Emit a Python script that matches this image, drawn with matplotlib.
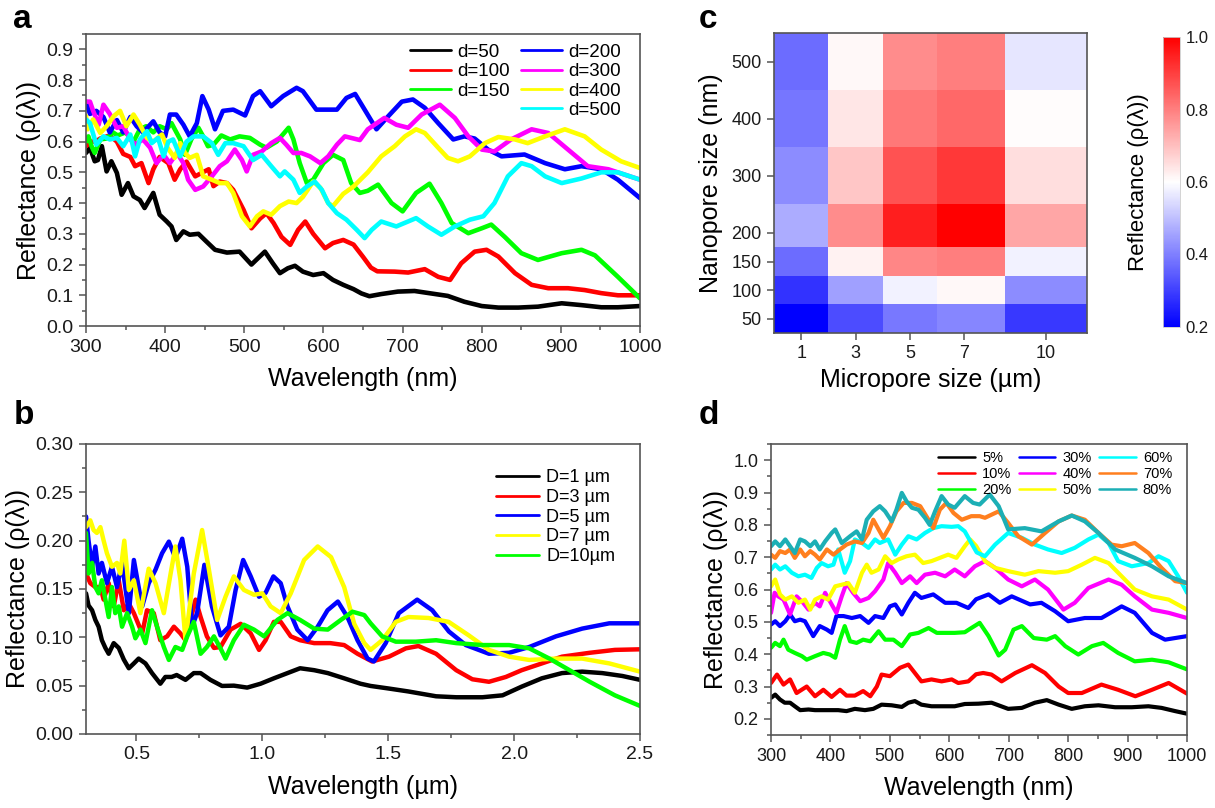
import matplotlib
matplotlib.use("Agg")
import matplotlib.pyplot as plt
from matplotlib.ticker import MultipleLocator, FormatStrFormatter
from matplotlib.lines import Line2D
import numpy as np

plt.rcParams["font.family"] = ["Liberation Sans", "DejaVu Sans"]

# ---------------- (a) nanopore size d (nm): wavelength (nm), reflectance ----------------
a_d50 = [(300,0.563),(305,0.58),(311,0.536),(315,0.54),(320,0.585),(326,0.503),(332,0.536),(339,0.498),
         (345,0.427),(353,0.465),(360,0.422),(368,0.41),(374,0.384),(385,0.433),(393,0.362),(402,0.34),
         (408,0.324),(414,0.28),(423,0.308),(431,0.297),(442,0.30),(452,0.275),(463,0.248),(478,0.239),
         (494,0.242),(509,0.20),(515,0.215),(526,0.242),(536,0.204),(545,0.172),(555,0.188),(564,0.196),
         (574,0.177),(587,0.166),(600,0.172),(612,0.15),(625,0.134),(638,0.12),(648,0.106),(658,0.097),
         (673,0.104),(694,0.112),(715,0.114),(736,0.106),(757,0.098),(778,0.079),(800,0.065),(821,0.06),
         (846,0.06),(871,0.063),(901,0.074),(926,0.068),(951,0.061),(972,0.061),(1000,0.065)]
a_d100 = [(300,0.585),(306,0.60),(312,0.60),(318,0.61),(330,0.62),(339,0.60),(347,0.56),(356,0.55),
          (362,0.52),(370,0.53),(379,0.465),(385,0.51),(393,0.55),(404,0.53),(412,0.476),(419,0.51),
          (427,0.535),(438,0.487),(446,0.498),(455,0.51),(461,0.455),(469,0.47),(478,0.465),(486,0.443),
          (499,0.378),(509,0.318),(520,0.35),(528,0.367),(537,0.335),(547,0.29),(558,0.264),(568,0.313),
          (577,0.34),(587,0.30),(602,0.253),(612,0.27),(625,0.28),(638,0.265),(650,0.225),(660,0.19),
          (668,0.178),(690,0.177),(707,0.174),(728,0.185),(745,0.16),(760,0.15),(774,0.204),(791,0.242),
          (806,0.248),(821,0.226),(842,0.172),(863,0.134),(884,0.123),(909,0.123),(930,0.117),(951,0.107),
          (972,0.10),(1000,0.10)]
a_d150 = [(300,0.60),(303,0.617),(307,0.585),(311,0.563),(318,0.607),(326,0.61),(334,0.63),(340,0.62),
          (350,0.63),(360,0.60),(368,0.64),(376,0.65),(385,0.63),(393,0.65),(402,0.64),(408,0.66),
          (419,0.607),(425,0.557),(433,0.607),(442,0.645),(448,0.617),(454,0.585),(461,0.59),(471,0.62),
          (482,0.607),(494,0.617),(507,0.612),(520,0.59),(528,0.58),(541,0.60),(556,0.645),(562,0.607),
          (570,0.53),(579,0.465),(587,0.476),(600,0.53),(612,0.557),(625,0.54),(635,0.465),(646,0.433),
          (656,0.44),(669,0.46),(686,0.40),(700,0.373),(717,0.433),(734,0.463),(749,0.40),(762,0.335),
          (783,0.302),(800,0.318),(812,0.33),(829,0.29),(850,0.237),(871,0.215),(901,0.237),(926,0.248),
          (943,0.23),(972,0.16),(1000,0.09)]
a_d200 = [(300,0.73),(305,0.69),(313,0.70),(322,0.68),(330,0.63),(339,0.67),(347,0.63),(356,0.68),
          (364,0.65),(372,0.63),(385,0.666),(393,0.63),(400,0.617),(406,0.688),(414,0.688),(423,0.655),
          (431,0.617),(440,0.66),(447,0.748),(455,0.704),(463,0.64),(473,0.70),(486,0.704),(501,0.685),
          (511,0.748),(520,0.764),(534,0.715),(549,0.748),(566,0.775),(574,0.764),(591,0.704),(604,0.704),
          (617,0.704),(629,0.742),(640,0.755),(652,0.704),(667,0.64),(682,0.683),(699,0.73),(713,0.737),
          (728,0.71),(745,0.66),(764,0.607),(778,0.617),(791,0.61),(808,0.574),(825,0.552),(854,0.558),
          (880,0.53),(905,0.51),(926,0.52),(951,0.51),(972,0.476),(1000,0.416)]
a_d300 = [(300,0.73),(305,0.73),(309,0.70),(316,0.655),(322,0.72),(330,0.69),(339,0.645),(347,0.65),
          (356,0.607),(362,0.59),(372,0.607),(381,0.58),(389,0.53),(398,0.557),(406,0.53),(415,0.563),
          (423,0.53),(429,0.476),(438,0.443),(448,0.454),(459,0.487),(469,0.52),(478,0.536),(488,0.574),
          (497,0.54),(503,0.503),(511,0.557),(522,0.568),(534,0.595),(545,0.612),(553,0.59),(562,0.563),
          (572,0.563),(583,0.552),(596,0.53),(606,0.552),(617,0.59),(627,0.617),(635,0.612),(646,0.605),
          (656,0.64),(677,0.677),(692,0.655),(707,0.645),(724,0.688),(747,0.72),(766,0.677),(783,0.617),
          (800,0.574),(816,0.568),(837,0.607),(863,0.64),(884,0.628),(909,0.574),(934,0.52),(960,0.51),
          (1000,0.476)]
a_d400 = [(300,0.683),(302,0.64),(309,0.672),(318,0.628),(326,0.65),(335,0.683),(343,0.70),(351,0.65),
          (360,0.688),(368,0.655),(377,0.612),(385,0.60),(396,0.623),(403,0.58),(412,0.547),(419,0.595),
          (425,0.563),(431,0.547),(440,0.557),(448,0.487),(459,0.476),(469,0.465),(478,0.465),(486,0.433),
          (497,0.357),(507,0.324),(516,0.357),(524,0.373),(534,0.362),(545,0.39),(556,0.405),(566,0.40),
          (574,0.42),(587,0.47),(596,0.45),(606,0.40),(612,0.39),(625,0.43),(638,0.454),(656,0.50),
          (673,0.552),(690,0.585),(703,0.617),(717,0.64),(728,0.628),(745,0.58),(757,0.547),(770,0.536),
          (785,0.552),(804,0.595),(821,0.615),(842,0.607),(858,0.595),(880,0.617),(905,0.64),(930,0.617),
          (951,0.574),(976,0.536),(1000,0.514)]
a_d500 = [(300,0.672),(305,0.66),(313,0.59),(322,0.617),(330,0.607),(339,0.612),(347,0.585),(356,0.623),
          (362,0.552),(368,0.607),(377,0.634),(383,0.595),(391,0.612),(398,0.552),(404,0.60),(410,0.607),
          (419,0.552),(427,0.60),(436,0.617),(448,0.617),(459,0.595),(467,0.557),(476,0.595),(486,0.595),
          (499,0.585),(511,0.54),(522,0.557),(534,0.52),(545,0.487),(551,0.503),(562,0.476),(570,0.433),
          (579,0.454),(589,0.47),(598,0.443),(606,0.40),(617,0.367),(629,0.346),(642,0.313),(652,0.286),
          (661,0.313),(673,0.34),(692,0.324),(717,0.351),(732,0.324),(749,0.297),(766,0.324),(785,0.346),
          (802,0.357),(816,0.40),(833,0.487),(850,0.53),(863,0.52),(880,0.487),(901,0.465),(926,0.48),
          (951,0.50),(972,0.50),(1000,0.476)]
a_labels = ["d=50", "d=100", "d=150", "d=200", "d=300", "d=400", "d=500"]
a_series = [a_d50, a_d100, a_d150, a_d200, a_d300, a_d400, a_d500]
a_colors = ["#000000", "#FF0000", "#00FF00", "#0000FF", "#FF00FF", "#FFFF00", "#00FFFF"]

# ---------------- (b) micropore size D: wavelength (um), reflectance ----------------
b_D1 = [(0.30,0.1455),(0.31,0.133),(0.324,0.128),(0.337,0.118),(0.35,0.111),(0.363,0.097),(0.377,0.089),
        (0.39,0.083),(0.41,0.094),(0.43,0.089),(0.45,0.077),(0.47,0.068),(0.49,0.073),(0.509,0.078),
        (0.536,0.073),(0.562,0.063),(0.595,0.052),(0.615,0.059),(0.64,0.059),(0.66,0.061),(0.695,0.056),
        (0.728,0.063),(0.755,0.063),(0.794,0.056),(0.84,0.0497),(0.887,0.05),(0.94,0.048),(0.993,0.052),
        (1.046,0.0576),(1.10,0.063),(1.15,0.068),(1.206,0.066),(1.26,0.063),(1.325,0.0576),(1.39,0.052),
        (1.43,0.0497),(1.503,0.047),(1.58,0.044),(1.69,0.039),(1.77,0.038),(1.874,0.038),(1.954,0.040),
        (2.03,0.049),(2.11,0.0576),(2.19,0.063),(2.27,0.0645),(2.35,0.063),(2.43,0.060),(2.5,0.056)]
b_D3 = [(0.30,0.166),(0.317,0.156),(0.337,0.152),(0.357,0.152),(0.37,0.139),(0.39,0.156),(0.41,0.132),
        (0.43,0.159),(0.45,0.128),(0.47,0.135),(0.49,0.125),(0.523,0.104),(0.542,0.128),(0.569,0.125),
        (0.595,0.097),(0.622,0.101),(0.649,0.111),(0.675,0.104),(0.695,0.097),(0.715,0.118),(0.735,0.139),
        (0.755,0.121),(0.78,0.101),(0.808,0.089),(0.834,0.090),(0.874,0.108),(0.914,0.114),(0.954,0.104),
        (0.987,0.087),(1.013,0.097),(1.046,0.116),(1.073,0.116),(1.113,0.101),(1.15,0.097),(1.206,0.094),
        (1.27,0.094),(1.325,0.092),(1.378,0.083),(1.436,0.075),(1.503,0.080),(1.57,0.0886),(1.62,0.091),
        (1.69,0.083),(1.77,0.066),(1.834,0.0566),(1.9,0.054),(1.967,0.059),(2.03,0.066),(2.11,0.073),
        (2.19,0.080),(2.3,0.084),(2.4,0.087),(2.5,0.0876)]
b_D5 = [(0.30,0.225),(0.31,0.20),(0.324,0.173),(0.337,0.194),(0.35,0.166),(0.363,0.177),(0.383,0.156),
        (0.403,0.173),(0.423,0.152),(0.443,0.177),(0.47,0.125),(0.49,0.18),(0.509,0.152),(0.523,0.132),
        (0.549,0.156),(0.576,0.17),(0.602,0.187),(0.629,0.199),(0.655,0.182),(0.682,0.202),(0.702,0.173),
        (0.721,0.111),(0.741,0.125),(0.77,0.175),(0.80,0.132),(0.834,0.102),(0.867,0.111),(0.894,0.149),
        (0.924,0.18),(0.954,0.163),(0.987,0.142),(1.013,0.146),(1.044,0.163),(1.073,0.156),(1.10,0.132),
        (1.139,0.108),(1.18,0.097),(1.22,0.111),(1.259,0.128),(1.30,0.137),(1.338,0.121),(1.378,0.097),
        (1.418,0.078),(1.443,0.075),(1.49,0.094),(1.542,0.125),(1.615,0.139),(1.675,0.128),(1.741,0.106),
        (1.808,0.092),(1.9,0.083),(1.98,0.084),(2.06,0.090),(2.166,0.101),(2.27,0.109),(2.378,0.1145),
        (2.5,0.1145)]
b_D7 = [(0.30,0.214),(0.317,0.221),(0.33,0.211),(0.343,0.208),(0.357,0.214),(0.37,0.20),(0.383,0.187),
        (0.403,0.173),(0.423,0.177),(0.436,0.166),(0.452,0.20),(0.47,0.149),(0.49,0.159),(0.516,0.125),
        (0.549,0.171),(0.576,0.156),(0.609,0.125),(0.636,0.166),(0.655,0.194),(0.675,0.159),(0.695,0.097),
        (0.728,0.166),(0.761,0.211),(0.788,0.17),(0.821,0.118),(0.854,0.142),(0.887,0.163),(0.927,0.149),
        (0.967,0.144),(1.0,0.1455),(1.033,0.132),(1.073,0.125),(1.113,0.1455),(1.166,0.18),(1.22,0.194),
        (1.273,0.183),(1.325,0.152),(1.365,0.114),(1.405,0.094),(1.43,0.087),(1.476,0.097),(1.53,0.116),
        (1.58,0.121),(1.66,0.12),(1.74,0.116),(1.82,0.102),(1.9,0.087),(1.98,0.080),(2.06,0.0766),
        (2.166,0.078),(2.27,0.078),(2.378,0.073),(2.5,0.0645)]
b_D10 = [(0.30,0.208),(0.31,0.166),(0.324,0.177),(0.337,0.152),(0.35,0.1455),(0.363,0.159),(0.377,0.139),
         (0.39,0.121),(0.403,0.152),(0.416,0.125),(0.43,0.132),(0.443,0.111),(0.463,0.125),(0.483,0.111),
         (0.496,0.099),(0.516,0.108),(0.536,0.094),(0.562,0.128),(0.582,0.111),(0.609,0.090),(0.629,0.0766),
         (0.655,0.090),(0.682,0.087),(0.702,0.101),(0.728,0.116),(0.755,0.083),(0.78,0.090),(0.808,0.101),
         (0.834,0.0886),(0.854,0.078),(0.887,0.097),(0.927,0.113),(0.967,0.108),(1.007,0.101),(1.06,0.118),
         (1.10,0.125),(1.15,0.118),(1.206,0.109),(1.26,0.108),(1.312,0.118),(1.358,0.1265),(1.405,0.123),
         (1.43,0.1145),(1.476,0.101),(1.53,0.0955),(1.61,0.0955),(1.69,0.097),(1.77,0.094),(1.874,0.092),
         (1.98,0.092),(2.06,0.0886),(2.14,0.078),(2.22,0.066),(2.3,0.054),(2.4,0.040),(2.5,0.029)]
b_labels = ["D=1 µm", "D=3 µm", "D=5 µm", "D=7 µm", "D=10µm"]
b_series = [b_D1, b_D3, b_D5, b_D7, b_D10]
b_colors = ["#000000", "#FF0000", "#0000FF", "#FFFF00", "#00FF00"]

# ---------------- (c) reflectance map ----------------
c_micropore = [1, 3, 5, 7, 10]                       # µm
c_micro_edges = [0, 2, 4, 6, 8.5, 11.5]
c_nanopore = [50, 100, 150, 200, 300, 400, 500]      # nm
c_nano_edges = [25, 75, 125, 175, 250, 350, 450, 550]
c_reflectance = [
    [0.20, 0.32, 0.39, 0.41, 0.29],    # 50 nm
    [0.28, 0.45, 0.58, 0.61, 0.42],    # 100 nm
    [0.37, 0.62, 0.79, 0.80, 0.58],    # 150 nm
    [0.47, 0.78, 0.95, 1.00, 0.74],    # 200 nm
    [0.42, 0.69, 0.87, 0.91, 0.65],    # 300 nm
    [0.385, 0.64, 0.81, 0.835, 0.605], # 400 nm
    [0.37, 0.61, 0.78, 0.80, 0.56],    # 500 nm
]

# ---------------- (d) porosity: wavelength (nm), reflectance ----------------
d_p5 = [(300,0.265),(307,0.275),(315,0.26),(323,0.25),(332,0.25),(340,0.239),(349,0.227),(363,0.229),
        (374,0.227),(385,0.227),(399,0.227),(413,0.227),(427,0.224),(441,0.231),(458,0.227),(472,0.231),
        (486,0.244),(503,0.242),(520,0.237),(531,0.25),(542,0.255),(553,0.244),(570,0.239),(593,0.239),
        (609,0.239),(626,0.246),(649,0.247),(671,0.25),(699,0.231),(722,0.234),(744,0.25),(764,0.258),
        (784,0.244),(806,0.231),(828,0.239),(851,0.242),(879,0.236),(907,0.236),(935,0.239),(957,0.234),
        (980,0.224),(1000,0.216)]
d_p10 = [(300,0.311),(310,0.337),(321,0.306),(332,0.322),(343,0.28),(360,0.30),(374,0.27),(388,0.29),
         (402,0.268),(416,0.29),(427,0.272),(441,0.272),(455,0.286),(467,0.27),(478,0.30),(486,0.337),
         (500,0.332),(517,0.358),(531,0.368),(542,0.342),(553,0.316),(570,0.322),(587,0.316),(604,0.322),
         (615,0.311),(632,0.316),(645,0.338),(657,0.342),(671,0.337),(688,0.316),(711,0.342),(739,0.366),
         (761,0.342),(784,0.30),(800,0.28),(823,0.28),(856,0.306),(884,0.29),(913,0.27),(941,0.29),
         (969,0.311),(1000,0.278)]
d_p20 = [(300,0.42),(307,0.435),(315,0.425),(321,0.445),(329,0.414),(340,0.404),(352,0.394),(360,0.383),
         (374,0.394),(388,0.404),(399,0.399),(408,0.389),(416,0.445),(424,0.487),(433,0.44),(444,0.435),
         (455,0.445),(467,0.44),(481,0.471),(492,0.445),(506,0.445),(520,0.425),(534,0.461),(548,0.466),
         (565,0.481),(579,0.466),(593,0.466),(609,0.466),(626,0.468),(637,0.481),(651,0.497),(666,0.456),
         (683,0.396),(694,0.414),(708,0.476),(722,0.487),(742,0.45),(764,0.445),(778,0.456),(795,0.425),
         (817,0.399),(840,0.425),(859,0.435),(884,0.404),(912,0.378),(941,0.383),(969,0.375),(1000,0.353)]
d_p30 = [(300,0.492),(307,0.502),(315,0.487),(324,0.502),(332,0.523),(340,0.502),(349,0.507),(357,0.502),
         (371,0.456),(382,0.487),(394,0.476),(402,0.466),(410,0.518),(422,0.518),(436,0.512),(450,0.518),
         (464,0.497),(475,0.518),(489,0.512),(500,0.548),(509,0.554),(520,0.523),(531,0.559),(542,0.59),
         (553,0.574),(573,0.585),(593,0.559),(612,0.559),(632,0.543),(645,0.57),(666,0.585),(685,0.559),
         (705,0.579),(736,0.554),(755,0.559),(778,0.533),(800,0.502),(828,0.512),(856,0.512),(890,0.548),
         (912,0.528),(941,0.466),(963,0.445),(1000,0.456)]
d_p40 = [(300,0.528),(306,0.59),(312,0.579),(321,0.569),(332,0.523),(343,0.579),(354,0.559),(363,0.538),
         (374,0.559),(382,0.548),(391,0.59),(402,0.554),(410,0.528),(419,0.579),(427,0.62),(438,0.59),
         (450,0.564),(464,0.574),(475,0.595),(489,0.631),(497,0.682),(509,0.652),(520,0.62),(534,0.641),
         (545,0.62),(559,0.646),(576,0.652),(593,0.641),(609,0.662),(626,0.641),(643,0.672),(660,0.688),
         (677,0.667),(699,0.631),(722,0.61),(744,0.631),(766,0.60),(792,0.538),(811,0.559),(834,0.605),
         (868,0.631),(890,0.615),(912,0.579),(941,0.538),(969,0.528),(1000,0.512)]
d_p50 = [(300,0.61),(307,0.631),(315,0.585),(324,0.569),(335,0.579),(346,0.559),(357,0.569),(366,0.538),
         (374,0.569),(385,0.579),(396,0.569),(408,0.61),(419,0.615),(430,0.62),(441,0.59),(453,0.652),
         (461,0.677),(469,0.652),(481,0.662),(492,0.703),(503,0.682),(514,0.693),(528,0.703),(542,0.708),
         (556,0.682),(570,0.688),(584,0.698),(598,0.708),(612,0.698),(626,0.734),(635,0.755),(645,0.735),
         (660,0.688),(677,0.667),(699,0.657),(727,0.646),(750,0.657),(778,0.652),(800,0.657),(823,0.677),
         (845,0.698),(868,0.682),(890,0.641),(912,0.60),(941,0.579),(969,0.569),(1000,0.538)]
d_p60 = [(300,0.662),(307,0.677),(315,0.662),(324,0.672),(335,0.652),(346,0.641),(357,0.646),(368,0.636),
         (377,0.667),(385,0.682),(396,0.672),(405,0.677),(413,0.724),(424,0.652),(433,0.688),(441,0.755),
         (453,0.744),(464,0.729),(475,0.755),(483,0.744),(497,0.755),(509,0.708),(520,0.739),(531,0.765),
         (545,0.755),(559,0.775),(573,0.79),(587,0.796),(604,0.794),(615,0.796),(626,0.78),(637,0.744),
         (646,0.715),(660,0.703),(677,0.739),(699,0.775),(722,0.76),(744,0.739),(766,0.724),(789,0.713),
         (811,0.729),(834,0.755),(851,0.77),(868,0.744),(884,0.688),(907,0.672),(935,0.682),(952,0.703),
         (969,0.688),(985,0.641),(1000,0.59)]
d_p70 = [(300,0.708),(307,0.698),(315,0.719),(324,0.713),(332,0.724),(340,0.698),(349,0.724),(357,0.703),
         (366,0.719),(374,0.708),(382,0.693),(394,0.724),(405,0.708),(416,0.724),(427,0.739),(441,0.749),
         (453,0.744),(464,0.775),(472,0.816),(481,0.786),(489,0.76),(500,0.796),(511,0.842),(523,0.868),
         (537,0.868),(551,0.858),(565,0.816),(573,0.79),(584,0.847),(595,0.868),(607,0.837),(621,0.816),
         (637,0.827),(651,0.827),(660,0.822),(683,0.842),(699,0.806),(716,0.765),(739,0.739),(761,0.775),
         (784,0.811),(806,0.829),(828,0.816),(851,0.775),(873,0.739),(890,0.734),(912,0.744),(935,0.713),
         (957,0.667),(980,0.626),(1000,0.62)]
d_p80 = [(300,0.734),(307,0.749),(315,0.734),(324,0.755),(332,0.734),(340,0.713),(349,0.755),(357,0.749),
         (366,0.734),(374,0.749),(382,0.724),(391,0.749),(402,0.775),(408,0.786),(419,0.744),(433,0.765),
         (444,0.78),(453,0.755),(461,0.816),(472,0.842),(483,0.858),(492,0.842),(503,0.811),(511,0.847),
         (520,0.899),(528,0.873),(537,0.853),(548,0.847),(559,0.822),(567,0.80),(576,0.842),(587,0.889),
         (598,0.863),(609,0.853),(626,0.889),(640,0.868),(651,0.863),(668,0.894),(683,0.858),(699,0.786),
         (727,0.79),(755,0.78),(784,0.811),(806,0.829),(828,0.811),(851,0.775),(879,0.724),(912,0.698),
         (941,0.672),(969,0.641),(1000,0.62)]
d_labels = ["5%", "10%", "20%", "30%", "40%", "50%", "60%", "70%", "80%"]
d_series = [d_p5, d_p10, d_p20, d_p30, d_p40, d_p50, d_p60, d_p70, d_p80]
d_colors = ["#000000", "#FF0000", "#00FF00", "#0000FF", "#FF00FF", "#FFFF00", "#00FFFF", "#FF7F1E", "#1CAFB5"]

FRAME = "#555555"
TICK_FS = 14
LABEL_FS = 18
YLABEL = "Reflectance (ρ(λ))"

fig = plt.figure(figsize=(12.15, 8.08), dpi=100)


def frame(ax):
    for s in ax.spines.values():
        s.set_color(FRAME)
        s.set_linewidth(1.2)
    ax.tick_params(which="both", direction="out", top=False, right=False,
                   color=FRAME, width=1.1, labelsize=TICK_FS, labelcolor="#1a1a1a")
    ax.tick_params(which="major", length=5, pad=4)
    ax.tick_params(which="minor", length=3)


def draw_lines(ax, series, colors, lw):
    handles = []
    for pts, col in zip(series, colors):
        x, y = zip(*pts)
        (h,) = ax.plot(x, y, color=col, lw=lw, solid_joinstyle="round", solid_capstyle="round")
        handles.append(h)
    return handles


def legend_lines(leg, lw=2.0):
    for ln in leg.get_lines():
        ln.set_linewidth(lw)


# ---------------- panel a ----------------
ax_a = fig.add_axes([0.0708, 0.5965, 0.456, 0.3614])
h_a = draw_lines(ax_a, a_series, a_colors, 3.3)
ax_a.set_xlim(300, 1000)
ax_a.set_ylim(0, 0.95)
ax_a.xaxis.set_major_locator(MultipleLocator(100))
ax_a.xaxis.set_minor_locator(MultipleLocator(50))
ax_a.yaxis.set_major_locator(MultipleLocator(0.1))
ax_a.yaxis.set_minor_locator(MultipleLocator(0.05))
ax_a.yaxis.set_major_formatter(FormatStrFormatter("%.1f"))
frame(ax_a)
ax_a.set_xlabel("Wavelength (nm)", fontsize=LABEL_FS, labelpad=8)
ax_a.set_ylabel(YLABEL, fontsize=LABEL_FS, labelpad=4)
blank = Line2D([], [], lw=0, alpha=0)
leg_a = ax_a.legend(h_a[:3] + [blank] + h_a[3:], a_labels[:3] + [""] + a_labels[3:],
                    ncol=2, loc="upper right", bbox_to_anchor=(0.985, 1.005), frameon=False,
                    fontsize=13.5, handlelength=2.2, handletextpad=0.3, columnspacing=0.6,
                    labelspacing=0.12, borderaxespad=0.2)
legend_lines(leg_a)

# ---------------- panel b ----------------
ax_b = fig.add_axes([0.0708, 0.0916, 0.456, 0.3589])
h_b = draw_lines(ax_b, b_series, b_colors, 3.2)
ax_b.set_xlim(0.3, 2.5)
ax_b.set_ylim(0, 0.30)
ax_b.xaxis.set_major_locator(MultipleLocator(0.5))
ax_b.xaxis.set_minor_locator(MultipleLocator(0.25))
ax_b.xaxis.set_major_formatter(FormatStrFormatter("%.1f"))
ax_b.yaxis.set_major_locator(MultipleLocator(0.05))
ax_b.yaxis.set_minor_locator(MultipleLocator(0.025))
ax_b.yaxis.set_major_formatter(FormatStrFormatter("%.2f"))
frame(ax_b)
ax_b.set_xlabel("Wavelength (µm)", fontsize=LABEL_FS, labelpad=8)
ax_b.set_ylabel(YLABEL, fontsize=LABEL_FS, labelpad=4)
leg_b = ax_b.legend(h_b, b_labels, loc="upper right", bbox_to_anchor=(0.975, 0.95), frameon=False,
                    fontsize=13, handlelength=2.4, handletextpad=0.4, labelspacing=0.15,
                    borderaxespad=0.2)
legend_lines(leg_b)

# ---------------- panel c ----------------
ax_c = fig.add_axes([0.637, 0.5879, 0.2576, 0.3713])
mesh = ax_c.pcolormesh(c_micro_edges, c_nano_edges, np.array(c_reflectance),
                       cmap="bwr", vmin=0.2, vmax=1.0, shading="flat")
ax_c.set_xlim(c_micro_edges[0], c_micro_edges[-1])
ax_c.set_ylim(c_nano_edges[0], c_nano_edges[-1])
ax_c.set_xticks(c_micropore)
ax_c.set_yticks(c_nanopore)
frame(ax_c)
ax_c.tick_params(labelsize=13)
ax_c.set_xlabel("Micropore size (µm)", fontsize=LABEL_FS, labelpad=4)
ax_c.set_ylabel("Nanopore size (nm)", fontsize=LABEL_FS, labelpad=6)

cax = fig.add_axes([0.9572, 0.5953, 0.014, 0.3589])
cb = fig.colorbar(mesh, cax=cax, ticks=[0.2, 0.4, 0.6, 0.8, 1.0])
cb.outline.set_edgecolor("#cccccc")
cb.outline.set_linewidth(0.6)
cax.yaxis.set_major_formatter(FormatStrFormatter("%.1f"))
cax.tick_params(length=0, pad=4, labelsize=12, labelcolor="#1a1a1a")
cax.yaxis.set_label_position("left")
cb.set_label(YLABEL, fontsize=16, labelpad=10)

# ---------------- panel d ----------------
ax_d = fig.add_axes([0.6346, 0.0903, 0.3424, 0.3601])
h_d = draw_lines(ax_d, d_series, d_colors, 3.0)
ax_d.set_xlim(300, 1000)
ax_d.set_ylim(0.15, 1.05)
ax_d.xaxis.set_major_locator(MultipleLocator(100))
ax_d.xaxis.set_minor_locator(MultipleLocator(50))
ax_d.yaxis.set_major_locator(MultipleLocator(0.1))
ax_d.yaxis.set_minor_locator(MultipleLocator(0.05))
ax_d.yaxis.set_major_formatter(FormatStrFormatter("%.1f"))
frame(ax_d)
ax_d.tick_params(labelsize=13)
ax_d.set_xlabel("Wavelength (nm)", fontsize=LABEL_FS, labelpad=8)
ax_d.set_ylabel(YLABEL, fontsize=LABEL_FS, labelpad=4)
leg_d = ax_d.legend(h_d, d_labels, ncol=3, loc="upper right", bbox_to_anchor=(0.985, 1.005),
                    frameon=False, fontsize=10.5, handlelength=2.5, handletextpad=0.5,
                    columnspacing=0.5, labelspacing=0.12, borderaxespad=0.2)
legend_lines(leg_d, 1.8)

# ---------------- panel letters ----------------
for letter, (x, y) in {"a": (0.011, 0.965), "b": (0.011, 0.475),
                       "c": (0.575, 0.965), "d": (0.575, 0.475)}.items():
    fig.text(x, y, letter, fontsize=24, fontweight="bold", va="baseline", ha="left")

fig.savefig("out.png", dpi=100)
